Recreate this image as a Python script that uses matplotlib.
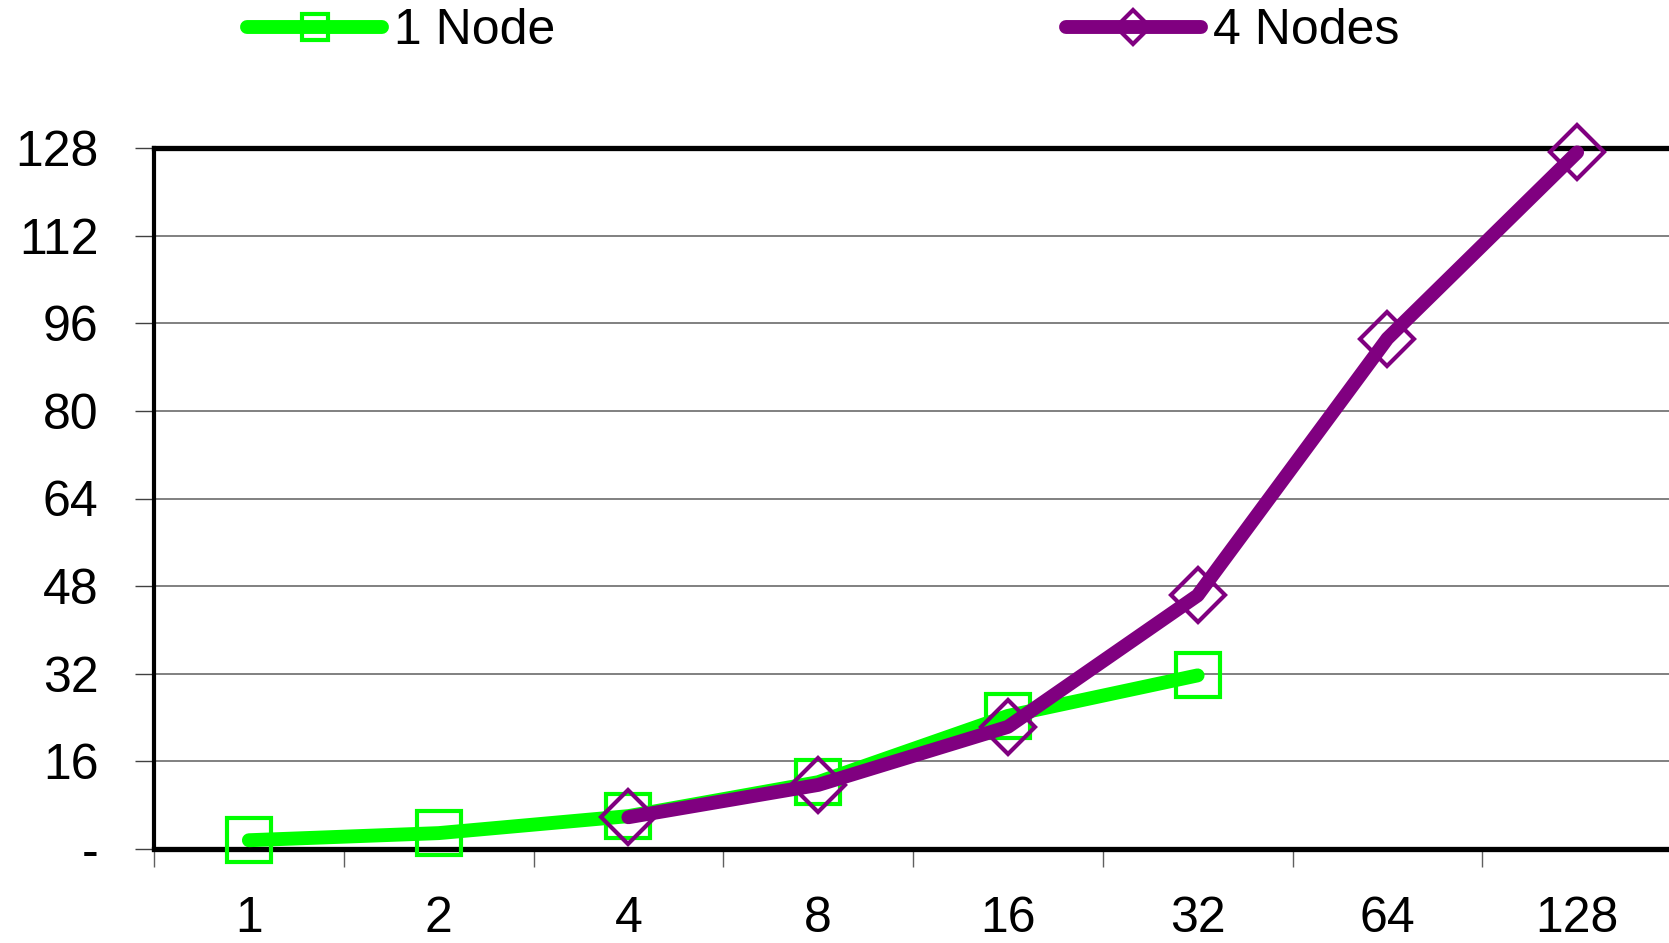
import numpy as np
import matplotlib.pyplot as plt
from matplotlib.lines import Line2D

plt.rcParams['font.family'] = ['Liberation Sans', 'DejaVu Sans']

# processes per run, and measured speedup for each node count
procs = ['1', '2', '4', '8', '16', '32', '64', '128']
one_node = [1.6, 2.9, 6.0, 12.2, 24.3, 31.7]
four_nodes = [5.8, 11.7, 22.3, 46.3, 93.2, 127.2]
four_nodes_start = 2   # first category with a 4-node run

y_ticks = [0, 16, 32, 48, 64, 80, 96, 112, 128]
y_tick_labels = ['-', '16', '32', '48', '64', '80', '96', '112', '128']

GREEN = '#00ff00'
PURPLE = '#800080'
FS = 36

fig = plt.figure(figsize=(16.69, 9.43), dpi=100)
ax = fig.add_axes([154 / 1669, 94 / 943, 1518 / 1669, 701 / 943])

x1 = np.arange(len(one_node))
x4 = np.arange(four_nodes_start, four_nodes_start + len(four_nodes))

ax.plot(x1, one_node, color=GREEN, lw=10, solid_capstyle='round',
        solid_joinstyle='round', marker='s', ms=31, mfc='none', mec=GREEN,
        mew=3, clip_on=False, zorder=3)
ax.plot(x4, four_nodes, color=PURPLE, lw=10, solid_capstyle='round',
        solid_joinstyle='round', marker='D', ms=27, mfc='none', mec=PURPLE,
        mew=3, clip_on=False, zorder=4)

ax.set_xlim(-0.5, len(procs) - 0.5)
ax.set_ylim(0, 128)

# category labels centred, tick marks on the category boundaries
ax.set_xticks(np.arange(len(procs)))
ax.set_xticklabels(procs)
ax.set_xticks(np.arange(len(procs) + 1) - 0.5, minor=True)
ax.tick_params(axis='x', which='major', length=0, pad=34, labelsize=FS)
ax.tick_params(axis='x', which='minor', length=13, width=1, color='#606060',
               direction='out')

ax.set_yticks(y_ticks)
ax.set_yticklabels(y_tick_labels)
ax.tick_params(axis='y', length=14, width=1, color='#404040', pad=26,
               labelsize=FS)

ax.yaxis.grid(True, color='#808080', lw=1.4)
ax.set_axisbelow(True)

for side in ['top', 'bottom']:
    ax.spines[side].set_linewidth(3.8)
ax.spines['left'].set_linewidth(3)
ax.spines['right'].set_linewidth(3)

handles = [
    Line2D([], [], color=GREEN, lw=10, solid_capstyle='round', marker='s',
           ms=19, mfc='none', mec=GREEN, mew=3),
    Line2D([], [], color=PURPLE, lw=10, solid_capstyle='round', marker='D',
           ms=17, mfc='none', mec=PURPLE, mew=3),
]
fig.legend(handles, ['1 Node', '4 Nodes'], loc='center left',
           bbox_to_anchor=(247 / 1669, 1 - 31 / 943), ncol=2, frameon=False,
           fontsize=FS, handlelength=2.7, handletextpad=0.25,
           columnspacing=10.2, borderpad=0, borderaxespad=0)

fig.savefig('out.png', dpi=100)
